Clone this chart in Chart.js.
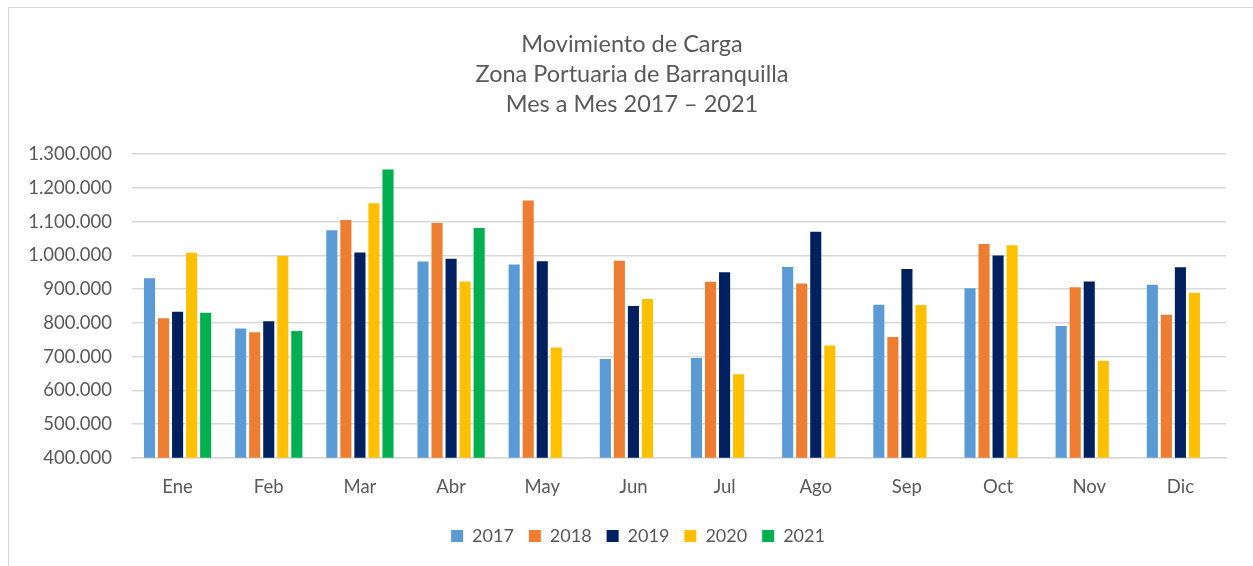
<!DOCTYPE html>
<html>
<head>
<meta charset="utf-8">
<script src="https://cdn.jsdelivr.net/npm/chart.js@4/dist/chart.umd.min.js"></script>
<style>
  html, body { margin: 0; padding: 0; background: #fff; overflow: hidden; }
  #wrap { position: relative; width: 1253px; height: 566px; }
  #frame {
    position: absolute; left: 8px; top: 7px; width: 1260px; height: 580px;
    border: 1px solid #d9d9d9; box-sizing: border-box; pointer-events: none;
  }
  canvas { position: absolute; left: 0; top: 0; }
</style>
</head>
<body>
<div id="wrap">
  <div id="frame"></div>
  <canvas id="cargaChart" width="1253" height="566"></canvas>
</div>
<script>
const months = ['Ene', 'Feb', 'Mar', 'Abr', 'May', 'Jun', 'Jul', 'Ago', 'Sep', 'Oct', 'Nov', 'Dic'];

const carga2017 = [932000, 783000, 1075000, 982000, 973000, 693000, 696000, 966000, 854000, 903000, 791000, 913000];
const carga2018 = [814000, 772000, 1105000, 1096000, 1163000, 984000, 922000, 917000, 758000, 1034000, 906000, 824000];
const carga2019 = [833000, 805000, 1009000, 990000, 983000, 850000, 950000, 1070000, 960000, 1000000, 923000, 965000];
const carga2020 = [1008000, 998000, 1155000, 923000, 727000, 871000, 648000, 733000, 853000, 1030000, 688000, 889000];
const carga2021 = [830000, 776000, 1255000, 1081000, null, null, null, null, null, null, null, null];

const yMin = 400000;
const yMax = 1300000;
const yStep = 100000;

const titleLines = ['Movimiento de Carga', 'Zona Portuaria de Barranquilla', 'Mes a Mes 2017 \u2013 2021'];

const textColor = '#595959';
const gridColor = '#d9d9d9';
const fontFamily = 'Lato, "Open Sans", sans-serif';

function formatMiles(v) {
  return String(v).replace(/\B(?=(\d{3})+(?!\d))/g, '.');
}

function serie(label, data, color) {
  return {
    label: label,
    data: data,
    backgroundColor: color,
    borderWidth: 0,
    categoryPercentage: 0.77,
    barPercentage: 0.79,
  };
}

// title and legend in the original are centred a bit right of the canvas middle
const nudgeBoxes = {
  id: 'nudgeBoxes',
  afterLayout(chart) {
    if (chart.titleBlock) chart.titleBlock.left += 38;
    if (chart.legend) {
      chart.legend.left += 50;
      chart.legend.top -= 4;
      chart.legend.bottom -= 4;
    }
  },
};

new Chart(document.getElementById('cargaChart'), {
  type: 'bar',
  data: {
    labels: months,
    datasets: [
      serie('2017', carga2017, '#5b9bd5'),
      serie('2018', carga2018, '#ed7d31'),
      serie('2019', carga2019, '#002060'),
      serie('2020', carga2020, '#ffc000'),
      serie('2021', carga2021, '#00b050'),
    ],
  },
  plugins: [nudgeBoxes],
  options: {
    responsive: false,
    animation: false,
    devicePixelRatio: 1,
    layout: {
      padding: { left: 0, right: 27, top: 0, bottom: 7 },
    },
    plugins: {
      title: {
        display: true,
        text: titleLines,
        color: textColor,
        font: { family: fontFamily, size: 23.5, weight: 'normal', lineHeight: 1.28 },
        padding: { top: 29, bottom: 35 },
      },
      legend: {
        position: 'bottom',
        labels: {
          color: textColor,
          font: { family: fontFamily, size: 18 },
          boxWidth: 12,
          boxHeight: 12,
          padding: 15,
        },
      },
      tooltip: { enabled: false },
    },
    scales: {
      x: {
        grid: { display: false, drawTicks: false },
        border: { display: true, color: gridColor, width: 1.5 },
        ticks: {
          color: textColor,
          font: { family: fontFamily, size: 18.5 },
          padding: 18,
        },
      },
      y: {
        min: yMin,
        max: yMax,
        afterFit: (scale) => { scale.width = 132; },
        grid: { color: gridColor, lineWidth: 1.5, drawTicks: false },
        border: { display: false },
        ticks: {
          stepSize: yStep,
          color: textColor,
          font: { family: fontFamily, size: 18.5 },
          padding: 20,
          callback: (v) => formatMiles(v),
        },
      },
    },
  },
});
</script>
</body>
</html>
